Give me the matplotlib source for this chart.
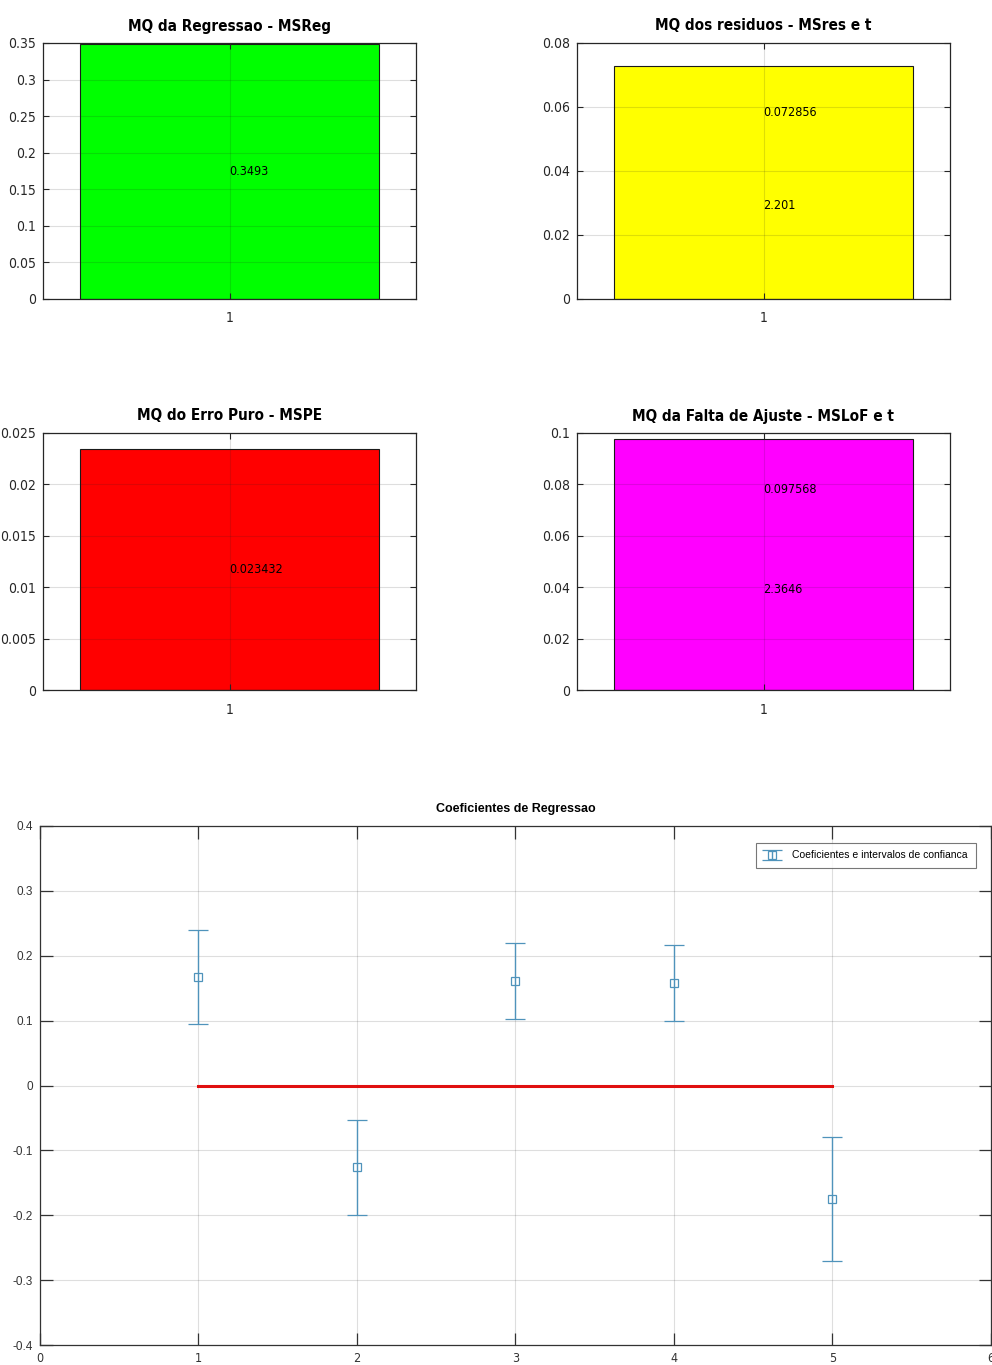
import matplotlib
matplotlib.use('Agg')
import matplotlib.pyplot as plt

plt.rcParams['font.family'] = ['DejaVu Sans']
plt.rcParams['font.stretch'] = 'condensed'

# bar panels
titles = ['MQ da Regressao - MSReg', 'MQ dos residuos - MSres e t',
          'MQ do Erro Puro - MSPE', 'MQ da Falta de Ajuste - MSLoF e t']
bar_values = [0.3493, 0.072856, 0.023432, 0.097568]
t_values = [None, 2.201, None, 2.3646]
bar_colors = ['#00ff00', '#ffff00', '#ff0000', '#ff00ff']
y_limits = [0.35, 0.08, 0.025, 0.1]
y_ticks = [
    [0, 0.05, 0.1, 0.15, 0.2, 0.25, 0.3, 0.35],
    [0, 0.02, 0.04, 0.06, 0.08],
    [0, 0.005, 0.01, 0.015, 0.02, 0.025],
    [0, 0.02, 0.04, 0.06, 0.08, 0.1],
]
y_ticklabels = [
    ['0', '0.05', '0.1', '0.15', '0.2', '0.25', '0.3', '0.35'],
    ['0', '0.02', '0.04', '0.06', '0.08'],
    ['0', '0.005', '0.01', '0.015', '0.02', '0.025'],
    ['0', '0.02', '0.04', '0.06', '0.08', '0.1'],
]

# coefficients
coef_x = [1, 2, 3, 4, 5]
coef = [0.167, -0.126, 0.161, 0.158, -0.175]
ci_low = [0.095, -0.200, 0.102, 0.100, -0.270]
ci_high = [0.240, -0.053, 0.220, 0.217, -0.079]

fig = plt.figure(figsize=(9.92, 13.65), dpi=100)

positions = [
    [43 / 992, 1 - 299 / 1365, 373 / 992, 256 / 1365],
    [577 / 992, 1 - 299 / 1365, 373 / 992, 256 / 1365],
    [43 / 992, 1 - 690 / 1365, 373 / 992, 257 / 1365],
    [577 / 992, 1 - 690 / 1365, 373 / 992, 257 / 1365],
]

grid_kw = dict(color='#262626', alpha=0.15, linewidth=0.8)

for i in range(4):
    ax = fig.add_axes(positions[i])
    ax.bar([1], [bar_values[i]], width=0.8, color=bar_colors[i],
           edgecolor='#1a1a1a', linewidth=0.8, zorder=2)
    ax.set_xlim(0.5, 1.5)
    ax.set_ylim(0, y_limits[i])
    ax.set_xticks([1])
    ax.set_xticklabels(['1'])
    ax.set_yticks(y_ticks[i])
    ax.set_yticklabels(y_ticklabels[i])
    ax.grid(True, zorder=3, **grid_kw)
    ax.set_axisbelow(False)
    ax.tick_params(direction='in', top=True, right=True, labelsize=10,
                   length=4, width=0.8, colors='#262626', pad=5)
    ax.tick_params(axis='x', pad=9)
    for s in ax.spines.values():
        s.set_color('#262626')
        s.set_linewidth(0.9)
    ax.set_title(titles[i], fontsize=11, fontweight='bold', pad=9)
    if t_values[i] is None:
        ax.text(1, bar_values[i] / 2, str(bar_values[i]), fontsize=9,
                ha='left', va='center', zorder=4)
    else:
        ax.text(1, bar_values[i] * 0.8, str(bar_values[i]), fontsize=9,
                ha='left', va='center', zorder=4)
        ax.text(1, bar_values[i] * 0.4, str(t_values[i]), fontsize=9,
                ha='left', va='center', zorder=4)

ax = fig.add_axes([40 / 992, 1 - 1345 / 1365, 951 / 992, 519 / 1365])
err_low = [c - l for c, l in zip(coef, ci_low)]
err_high = [h - c for c, h in zip(coef, ci_high)]
ax.errorbar(coef_x, coef, yerr=[err_low, err_high], fmt='s', color='#4f93bb',
            mfc='none', ms=6, mew=0.9, elinewidth=1.0, capsize=7, capthick=1.0,
            label='Coeficientes e intervalos de confianca', zorder=3)
ax.plot([coef_x[0], coef_x[-1]], [0, 0], color='#e01010', linewidth=2.2, zorder=2)
ax.set_xlim(0, 6)
ax.set_ylim(-0.4, 0.4)
ax.set_xticks([0, 1, 2, 3, 4, 5, 6])
ax.set_yticks([-0.4, -0.3, -0.2, -0.1, 0, 0.1, 0.2, 0.3, 0.4])
ax.set_yticklabels(['-0.4', '-0.3', '-0.2', '-0.1', '0', '0.1', '0.2', '0.3', '0.4'])
ax.grid(True, **grid_kw)
ax.tick_params(direction='in', top=True, right=True, labelsize=9,
               length=9, width=0.9, colors='#333333', pad=5)
ax.tick_params(axis='y', labelfontfamily='Liberation Sans', labelsize=8.5)
for s in ax.spines.values():
    s.set_color('#333333')
    s.set_linewidth(0.9)
ax.set_title('Coeficientes de Regressao', fontsize=9, fontweight='bold',
             fontfamily='Liberation Sans', fontstretch='normal', pad=10)
leg = ax.legend(loc='upper right', fancybox=False, edgecolor='#555555',
                prop={'family': 'Liberation Sans', 'stretch': 'normal', 'size': 7.5},
                borderpad=0.75, handletextpad=1.2, handlelength=1.6,
                bbox_to_anchor=(0.9895, 0.978))
leg.get_frame().set_linewidth(0.8)

fig.savefig('out.png', dpi=100)
